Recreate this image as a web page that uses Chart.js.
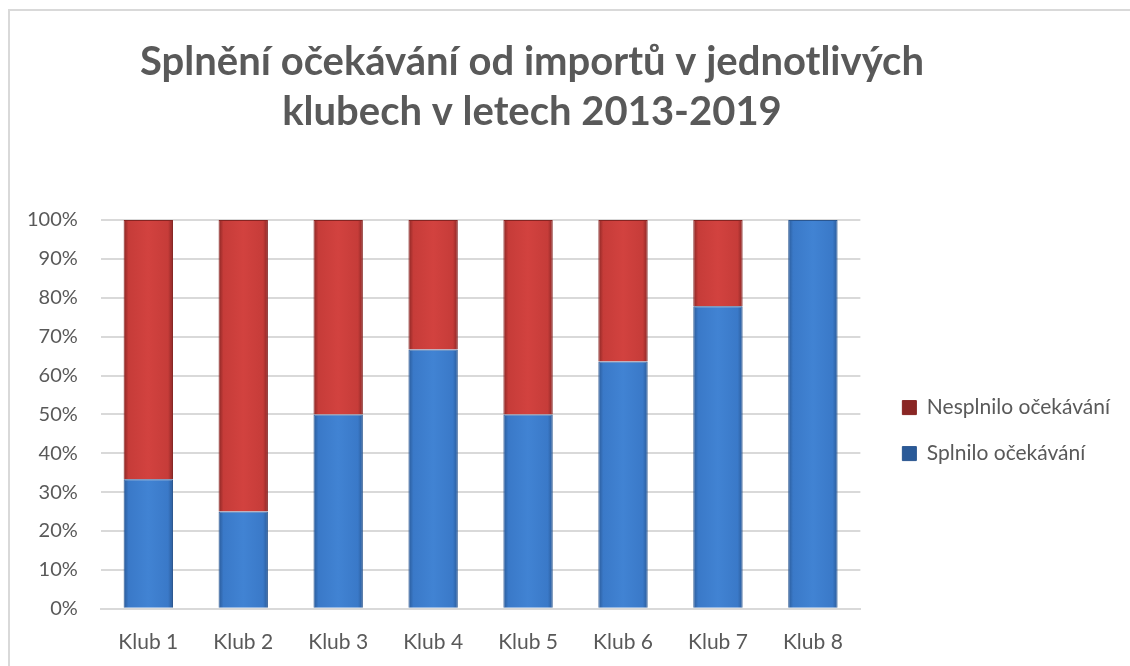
<!DOCTYPE html>
<html lang="cs">
<head>
    <meta charset="UTF-8">
    <title>Splnění očekávání od importů</title>
    <script src="https://cdn.jsdelivr.net/npm/chart.js"></script>
    <style>
        body { margin: 0; background: #fff; }
        #frame { position: absolute; left: 8px; top: 9px; width: 1200px; height: 800px; border: 2px solid #d9d9d9; }
        #wrap { position: absolute; left: 0; top: 0; width: 1130px; height: 666px; }
    </style>
</head>
<body>
<div id="frame"></div>
<div id="wrap"><canvas id="chart"></canvas></div>

<script>
    const clubs = ['Klub 1', 'Klub 2', 'Klub 3', 'Klub 4', 'Klub 5', 'Klub 6', 'Klub 7', 'Klub 8'];
    const met = [33.3, 25, 50, 66.7, 50, 63.6, 77.8, 100];
    const notMet = [66.7, 75, 50, 33.3, 50, 36.4, 22.2, 0];
    const yTicks = [0, 10, 20, 30, 40, 50, 60, 70, 80, 90, 100];
    const titleLines = ['Splnění očekávání od importů v jednotlivých', 'klubech v letech 2013-2019'];

    const textColor = '#595959';
    const font = 'Lato, "Open Sans", sans-serif';

    // horizontal shading so bars look a bit bevelled like the Excel original
    function shade(dark, mid, light) {
        return function (context) {
            const el = context.element;
            if (!el || !el.width || isNaN(el.x)) return mid;
            const c = context.chart.ctx;
            const x0 = el.x - el.width / 2;
            const g = c.createLinearGradient(x0, 0, x0 + el.width, 0);
            g.addColorStop(0, dark);
            g.addColorStop(0.1, mid);
            g.addColorStop(0.5, light);
            g.addColorStop(0.9, mid);
            g.addColorStop(1, dark);
            return g;
        };
    }

    // title is drawn by hand: in the original it is not centred on the canvas
    const titlePlugin = {
        id: 'bigTitle',
        afterDraw(chart) {
            const c = chart.ctx;
            c.save();
            c.fillStyle = textColor;
            c.font = 'bold 40px ' + font;
            c.textAlign = 'center';
            c.textBaseline = 'alphabetic';
            c.fillText(titleLines[0], 532, 75);
            c.fillText(titleLines[1], 532, 125);
            c.restore();
        }
    };

    const ctx = document.getElementById('chart').getContext('2d');
    const chart = new Chart(ctx, {
        type: 'bar',
        data: {
            labels: clubs,
            datasets: [
                {
                    label: 'Splnilo očekávání',
                    data: met,
                    backgroundColor: shade('#2a5a98', '#3a79c8', '#4183d3'),
                    borderColor: '#2a5690',
                    borderWidth: 1,
                    barPercentage: 0.52,
                    categoryPercentage: 1
                },
                {
                    label: 'Nesplnilo očekávání',
                    data: notMet,
                    backgroundColor: shade('#8a2624', '#c63c39', '#d2423f'),
                    borderColor: '#862422',
                    borderWidth: 1,
                    barPercentage: 0.52,
                    categoryPercentage: 1
                }
            ]
        },
        options: {
            responsive: true,
            maintainAspectRatio: false,
            animation: false,
            layout: { padding: { left: 4, right: 10, top: 220, bottom: -10 } },
            plugins: {
                title: { display: false },
                legend: {
                    position: 'right',
                    fullSize: false,
                    reverse: true,
                    maxWidth: 300,
                    title: { display: true, text: ' ', font: { size: 2 }, padding: { top: 0, bottom: 30 } },
                    labels: {
                        color: textColor,
                        font: { family: font, size: 21 },
                        boxWidth: 14,
                        boxHeight: 14,
                        padding: 25
                    }
                },
                tooltip: { enabled: false }
            },
            scales: {
                x: {
                    stacked: true,
                    grid: { display: false, drawTicks: false },
                    border: { color: '#d9d9d9', width: 2 },
                    ticks: { color: textColor, font: { family: font, size: 21 }, padding: 21 }
                },
                y: {
                    stacked: true,
                    min: 0,
                    max: 100,
                    afterBuildTicks: axis => { axis.ticks = yTicks.map(v => ({ value: v })); },
                    grid: { color: '#d9d9d9', lineWidth: 2, drawTicks: false },
                    border: { display: false },
                    ticks: {
                        color: textColor,
                        font: { family: font, size: 20 },
                        padding: 23,
                        callback: v => v + '%'
                    }
                },
                // empty spacer between plot and legend
                gap: {
                    type: 'linear',
                    position: 'right',
                    min: 0,
                    max: 1,
                    grid: { display: false },
                    border: { display: false },
                    ticks: { display: false },
                    afterFit: s => { s.width = 17; }
                }
            }
        },
        plugins: [titlePlugin]
    });
    chart.update();
</script>
</body>
</html>
